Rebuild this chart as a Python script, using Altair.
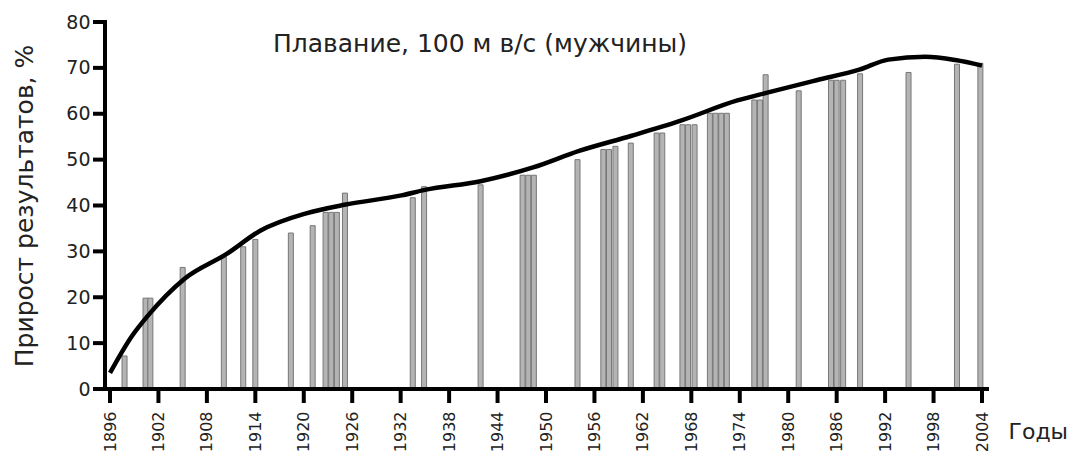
import altair as alt
import pandas as pd

# Bars: record years and gain in results (%)
bar_years = [1897.8, 1900.4, 1901.0, 1905.0, 1910.1, 1912.5, 1914.0, 1918.4, 1921.1,
             1922.7, 1923.4, 1924.1, 1925.1, 1933.5, 1934.9, 1941.9, 1947.1, 1947.8,
             1948.5, 1953.9, 1957.1, 1957.8, 1958.6, 1960.5, 1963.7, 1964.4, 1966.9,
             1967.6, 1968.4, 1970.3, 1971.0, 1971.7, 1972.4, 1975.8, 1976.5, 1977.2,
             1981.3, 1985.3, 1986.0, 1986.8, 1988.9, 1994.9, 2000.9, 2003.8]
bar_values = [7.2, 19.8, 19.8, 26.5, 28.8, 31.0, 32.6, 34.0, 35.6,
              38.5, 38.5, 38.5, 42.7, 41.7, 44.1, 44.5, 46.6, 46.6,
              46.6, 50.0, 52.2, 52.2, 52.9, 53.6, 55.8, 55.8, 57.6,
              57.6, 57.6, 60.1, 60.1, 60.1, 60.1, 63.0, 63.0, 68.5,
              65.0, 67.3, 67.3, 67.3, 68.7, 69.0, 70.8, 71.0]

# Trend curve
line_years = [1896, 1898.7, 1900.7, 1905.2, 1910.5, 1914.6, 1920.3, 1925.2, 1932.1,
              1935.0, 1941.9, 1948.4, 1954.1, 1960.6, 1966.7, 1973.7, 1977.4, 1983.5,
              1988.8, 1992.4, 1997.0, 2000.7, 2004]
line_values = [3.5, 11.5, 16.0, 24.0, 29.5, 34.5, 38.3, 40.2, 42.2,
               43.4, 45.3, 48.3, 51.9, 55.2, 58.5, 62.9, 64.6, 67.3,
               69.6, 71.8, 72.4, 71.7, 70.5]

x_ticks = list(range(1896, 2005, 6))
y_ticks = list(range(0, 81, 10))
title_text = ["Плавание, 100 м в/с (мужчины)"]

FONT = "DejaVu Sans"
W, H = 882, 367

bars_df = pd.DataFrame({"year": bar_years, "value": bar_values})
line_df = pd.DataFrame({"year": line_years, "value": line_values})
title_df = pd.DataFrame({"t": title_text})
xt_df = pd.DataFrame({"year": x_ticks})
yt_df = pd.DataFrame({"value": y_ticks})

x_scale = alt.Scale(domain=[1896, 2004], nice=False, zero=False)
y_scale = alt.Scale(domain=[0, 80], nice=False)

x_enc = alt.X(
    "year:Q", scale=x_scale,
    axis=alt.Axis(
        values=x_ticks, format="d", labelAngle=270, labelAlign="right",
        labelBaseline="middle", labelFontSize=16, labelPadding=22,
        ticks=False, domain=False, grid=False,
        title="Годы", titleFontSize=22, titleAngle=0, titleAlign="left",
        titleBaseline="middle", titleX=903, titleY=42,
    ),
)
y_enc = alt.Y(
    "value:Q", scale=y_scale,
    axis=alt.Axis(
        values=y_ticks, labelFontSize=19, labelPadding=15,
        ticks=False, domain=False, grid=False,
        title="Прирост результатов, %", titleFontSize=25, titlePadding=28,
    ),
)

bars = alt.Chart(bars_df).mark_bar(
    size=5, color="#b4b4b4", stroke="#777777", strokeWidth=1
)

line = alt.Chart(line_df).mark_line(
    color="black", strokeWidth=4.5, interpolate="monotone"
)

plot = alt.layer(bars, line).encode(x=x_enc, y=y_enc)

# Axis lines and tick marks (drawn thick, as in the original)
x_axis_line = alt.Chart(title_df).mark_rule(color="black", strokeWidth=4).encode(
    x=alt.value(-2), x2=alt.value(W + 2), y=alt.value(H))
y_axis_line = alt.Chart(title_df).mark_rule(color="black", strokeWidth=4).encode(
    x=alt.value(0), y=alt.value(-2), y2=alt.value(H + 2))
x_tick_marks = alt.Chart(xt_df).mark_rule(color="black", strokeWidth=4).encode(
    x=alt.X("year:Q", scale=x_scale), y=alt.value(H), y2=alt.value(H + 14))
y_tick_marks = alt.Chart(yt_df).mark_rule(color="black", strokeWidth=4).encode(
    y=alt.Y("value:Q", scale=y_scale), x=alt.value(-12), x2=alt.value(0))

title = alt.Chart(title_df).mark_text(
    font=FONT, fontSize=25, color="#222", align="center", baseline="middle"
).encode(x=alt.value(375), y=alt.value(22), text="t:N")

chart = alt.layer(
    plot, x_tick_marks, y_tick_marks, x_axis_line, y_axis_line, title
).properties(
    width=W, height=H,
    autosize=alt.AutoSizeParams(type="none"),
    padding={"left": 97, "top": 14, "right": 89, "bottom": 64},
).configure_view(stroke=None).configure_axis(
    grid=False, labelFont=FONT, labelColor="#222", titleFont=FONT,
    titleColor="#222", titleFontWeight="normal",
)

chart.save("out.html", embed_options={"renderer": "svg", "actions": False})
